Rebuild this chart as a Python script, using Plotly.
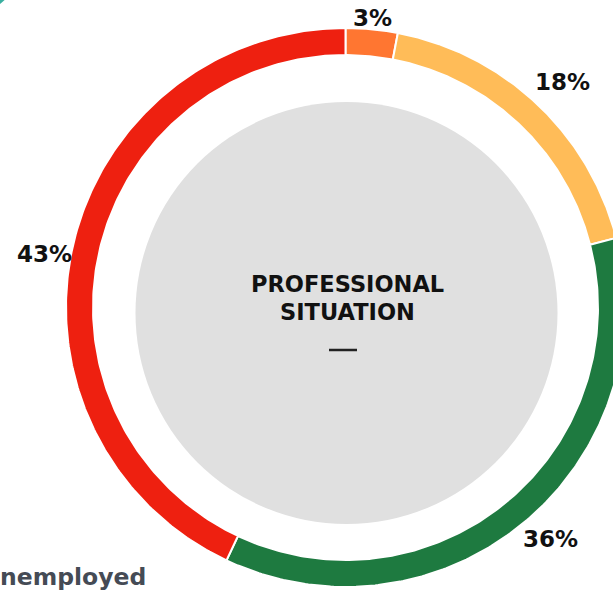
import numpy as np
import plotly.graph_objects as go

# ---- data ----
categories = ["Other", "Self-employed", "Employed", "Unemployed"]
shares = [3, 18, 36, 43]
slice_colors = ["#FF7631", "#FFBC58", "#1E7A40", "#EE2010"]
label_texts = ["3%", "18%", "36%", "43%"]
title_lines = ["PROFESSIONAL", "SITUATION"]
corner_text = "nemployed"

# ---- geometry (pixel space) ----
W, H = 613, 590
cx, cy = 345.5, 307.5
r_out, r_in = 279.5, 252.5
label_radius = [291, 313, 309, 306]
label_nudge = [0, 0.8, -2.0, -2.6]

fig = go.Figure()

total = float(sum(shares))
start = 0.0
for i, (cat, val, col) in enumerate(zip(categories, shares, slice_colors)):
    a0 = start / total * 360.0
    a1 = (start + val) / total * 360.0
    th = np.radians(np.linspace(a0, a1, 200))
    xs = np.concatenate([cx + r_out * np.sin(th), cx + r_in * np.sin(th[::-1])])
    ys = np.concatenate([cy - r_out * np.cos(th), cy - r_in * np.cos(th[::-1])])
    fig.add_trace(go.Scatter(
        x=np.append(xs, xs[0]), y=np.append(ys, ys[0]),
        mode="lines", fill="toself", fillcolor=col,
        line=dict(color="white", width=2), name=cat, hoverinfo="name",
    ))
    mid = np.radians((a0 + a1) / 2.0 + label_nudge[i])
    fig.add_annotation(
        x=cx + label_radius[i] * np.sin(mid), y=cy - label_radius[i] * np.cos(mid),
        text=f"<b>{label_texts[i]}</b>", showarrow=False,
        xanchor="center", yanchor="middle",
        font=dict(family="DejaVu Sans", size=23, color="#111111"),
    )
    start += val

# center grey disc
fig.add_shape(type="circle", xref="x", yref="y",
              x0=346.5 - 211, x1=346.5 + 211, y0=313 - 211, y1=313 + 211,
              fillcolor="#E0E0E0", line=dict(width=0), layer="below")

# teal decoration in the corner
fig.add_shape(type="circle", xref="x", yref="y",
              x0=-80 - 125, x1=-80 + 125, y0=-92 - 125, y1=-92 + 125,
              fillcolor="#3AAFA0", line=dict(width=0), layer="below")

fig.add_annotation(x=347, y=284, text="<b>" + title_lines[0] + "</b>", showarrow=False,
                   xanchor="center", yanchor="middle",
                   font=dict(family="DejaVu Sans", size=22.5, color="#111111"))
fig.add_annotation(x=347, y=312, text="<b>" + title_lines[1] + "</b>", showarrow=False,
                   xanchor="center", yanchor="middle",
                   font=dict(family="DejaVu Sans", size=22.5, color="#111111"))
fig.add_shape(type="line", xref="x", yref="y", x0=329, x1=357, y0=350, y1=350,
              line=dict(color="#222222", width=2.5))

fig.add_annotation(xref="paper", x=0, xshift=-2, yref="y", y=577,
                   text="<b>" + corner_text + "</b>", showarrow=False,
                   xanchor="left", yanchor="middle",
                   font=dict(family="DejaVu Sans", size=23.5, color="#454B55"))

fig.update_layout(
    width=W, height=H,
    margin=dict(l=0, r=0, t=0, b=0),
    paper_bgcolor="white", plot_bgcolor="white",
    showlegend=False,
    xaxis=dict(range=[0, W], visible=False, fixedrange=True),
    yaxis=dict(range=[H, 0], visible=False, fixedrange=True),
)

fig.write_html("out.html")
